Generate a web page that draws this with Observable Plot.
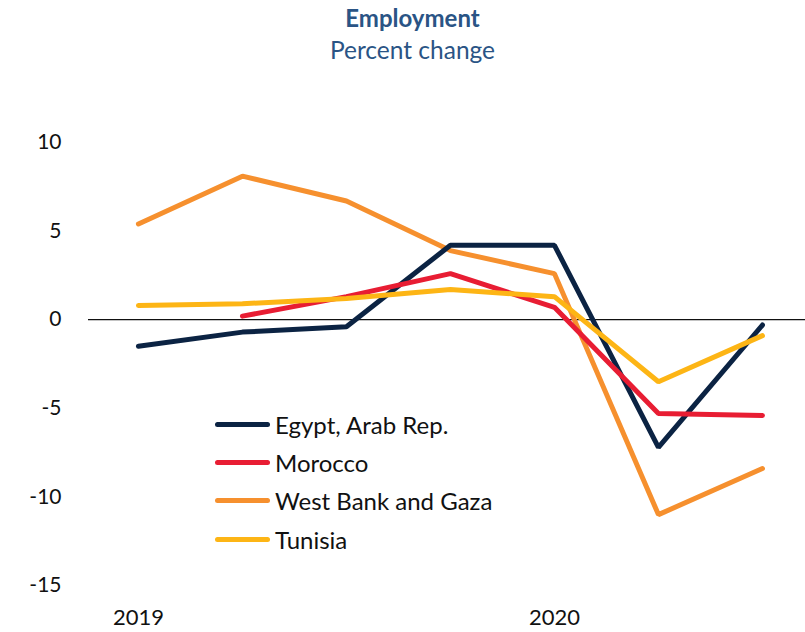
<!DOCTYPE html>
<html>
<head>
<meta charset="utf-8">
<script src="https://cdn.jsdelivr.net/npm/d3@7"></script>
<script src="https://cdn.jsdelivr.net/npm/@observablehq/plot@0.6"></script>
<style>
  body { margin: 0; background: #fff; font-family: Lato, "Open Sans", sans-serif; }
  #wrap { position: relative; width: 805px; height: 632px; }
  #head { height: 70px; text-align: center; color: #2A5485; font-size: 24.5px; line-height: 32px; padding-top: 2px; padding-left: 20px; box-sizing: border-box; }
  #head .t { font-weight: bold; font-size: 24px; }
  #legend { position: absolute; left: 215px; top: 405px; font-size: 24px; color: #111; }
  #legend .row { display: flex; align-items: center; height: 38.3px; }
  #legend .sw { width: 55px; height: 5px; border-radius: 3px; margin-right: 5px; }
</style>
</head>
<body>
<div id="wrap">
  <div id="head"><div class="t">Employment</div><div>Percent change</div></div>
  <div id="chart"></div>
  <div id="legend"></div>
</div>
<script>
const quarters = ["2019Q1","2019Q2","2019Q3","2019Q4","2020Q1","2020Q2","2020Q3"];
const countries = ["Egypt, Arab Rep.", "Morocco", "West Bank and Gaza", "Tunisia"];
const colors = ["#0B2343", "#E81D33", "#F6902E", "#FDB515"];
const egypt   = [-1.5, -0.7, -0.4, 4.2, 4.2, -7.2, -0.3];
const morocco = [null, 0.2, 1.3, 2.6, 0.7, -5.3, -5.4];
const wbg     = [5.4, 8.1, 6.7, 3.9, 2.6, -11.0, -8.4];
const tunisia = [0.8, 0.9, 1.2, 1.7, 1.3, -3.5, -0.9];
const yTicks = [10, 5, 0, -5, -10, -15];
const xTickLabels = ["2019", "2020"];
const xTickIdx = [0, 4];

const seriesVals = [egypt, morocco, wbg, tunisia];
const drawOrder = [2, 0, 1, 3];
const data = [];
drawOrder.forEach(ci => {
  seriesVals[ci].forEach((v, i) => {
    if (v !== null) data.push({country: countries[ci], i, q: quarters[i], v});
  });
});

const plot = Plot.plot({
  width: 805,
  height: 562,
  marginLeft: 88,
  marginRight: 0,
  marginTop: 72,
  marginBottom: 47,
  style: {fontFamily: "Lato, 'Open Sans', sans-serif", fontSize: "21px", color: "#111", background: "#fff"},
  x: {type: "linear", domain: [-0.48, 6.414]},
  y: {domain: [-15, 10]},
  color: {domain: countries, range: colors},
  marks: [
    Plot.axisY({ticks: yTicks, tickFormat: d => String(d), tickSize: 0, tickPadding: 27, label: null, fontSize: 21}),
    Plot.axisX({ticks: xTickIdx, tickFormat: (d) => xTickLabels[xTickIdx.indexOf(d)], tickSize: 0, tickPadding: 24, label: null, fontSize: 22}),
    Plot.ruleY([0], {stroke: "#111", strokeWidth: 1.3}),
    Plot.line(data, {x: "i", y: "v", z: "country", stroke: "country", strokeWidth: 5, strokeLinejoin: "miter", strokeLinecap: "round"})
  ]
});
document.getElementById("chart").appendChild(plot);

const leg = document.getElementById("legend");
countries.forEach((c, k) => {
  const row = document.createElement("div");
  row.className = "row";
  const sw = document.createElement("div");
  sw.className = "sw";
  sw.style.background = colors[k];
  const lab = document.createElement("span");
  lab.textContent = c;
  row.appendChild(sw);
  row.appendChild(lab);
  leg.appendChild(row);
});
</script>
</body>
</html>
